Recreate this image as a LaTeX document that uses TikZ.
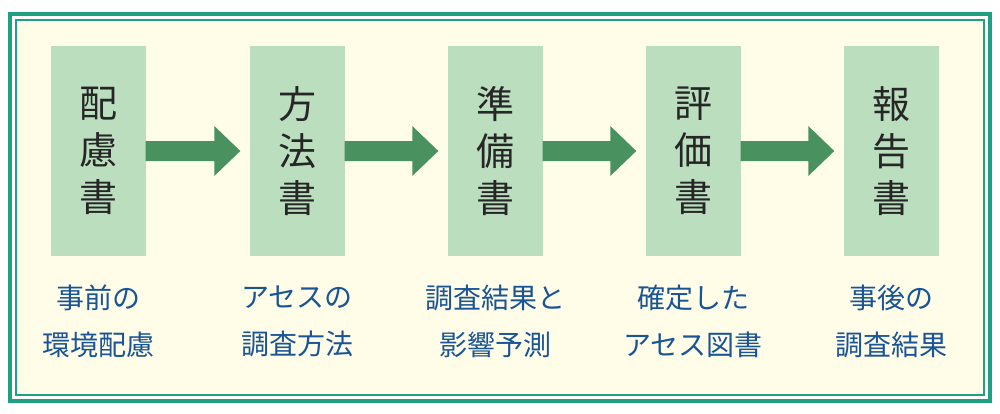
\documentclass[tikz,border=0pt]{standalone}
\usepackage{fontspec}
\newfontfamily\cjk{Noto Sans CJK JP}
\usetikzlibrary{calc}
\definecolor{framecolor}{RGB}{32,160,130}
\definecolor{papercolor}{RGB}{255,252,232}
\definecolor{boxcolor}{RGB}{186,222,190}
\definecolor{arrowcolor}{RGB}{74,145,96}
\definecolor{notecolor}{RGB}{25,85,150}
\tikzset{
  docbox/.style={fill=boxcolor, minimum width=95pt, minimum height=210pt, inner sep=0pt,
    font=\cjk\fontsize{38}{47}\selectfont, align=center, text=black!85},
  notetext/.style={font=\cjk\fontsize{28}{47}\selectfont, align=center, text=notecolor},
  flowarrow/.style={fill=arrowcolor}
}
\begin{document}
\begin{tikzpicture}[x=1pt,y=-1pt]
    % Page and frame
    \useasboundingbox (0,0) rectangle (1000,413);
    \fill[white] (0,0) rectangle (1000,413);
    \draw[framecolor, line width=4pt] (10,14) rectangle (990,401);
    \draw[framecolor, line width=1.5pt, fill=papercolor] (16,20) rectangle (984,395);

    % Document boxes
    \node[docbox] (hairyo) at (98,151) {配\\慮\\書};
    \node[docbox] (houhou) at (297,151) {方\\法\\書};
    \node[docbox] (junbi) at (495,151) {準\\備\\書};
    \node[docbox] (hyouka) at (693,151) {評\\価\\書};
    \node[docbox] (houkoku) at (891,151) {報\\告\\書};

    % Arrows between boxes
    \foreach \a/\b in {hairyo/houhou, houhou/junbi, junbi/hyouka, hyouka/houkoku}
      \fill[flowarrow] ($(\a.east)+(0,-10)$) -- ($(\b.west)+(-35,-10)$) -- ($(\b.west)+(-35,-25)$)
        -- ($(\b.west)+(-9,0)$) -- ($(\b.west)+(-35,25)$) -- ($(\b.west)+(-35,10)$)
        -- ($(\a.east)+(0,10)$) -- cycle;

    % Notes under boxes
    \node[notetext] (n1) at (98,321) {事前の\\環境配慮};
    \node[notetext] (n2) at (297,321) {アセスの\\調査方法};
    \node[notetext] (n3) at (495,321) {調査結果と\\影響予測};
    \node[notetext] (n4) at (693,321) {確定した\\アセス図書};
    \node[notetext] (n5) at (891,321) {事後の\\調査結果};
\end{tikzpicture}
\end{document}
